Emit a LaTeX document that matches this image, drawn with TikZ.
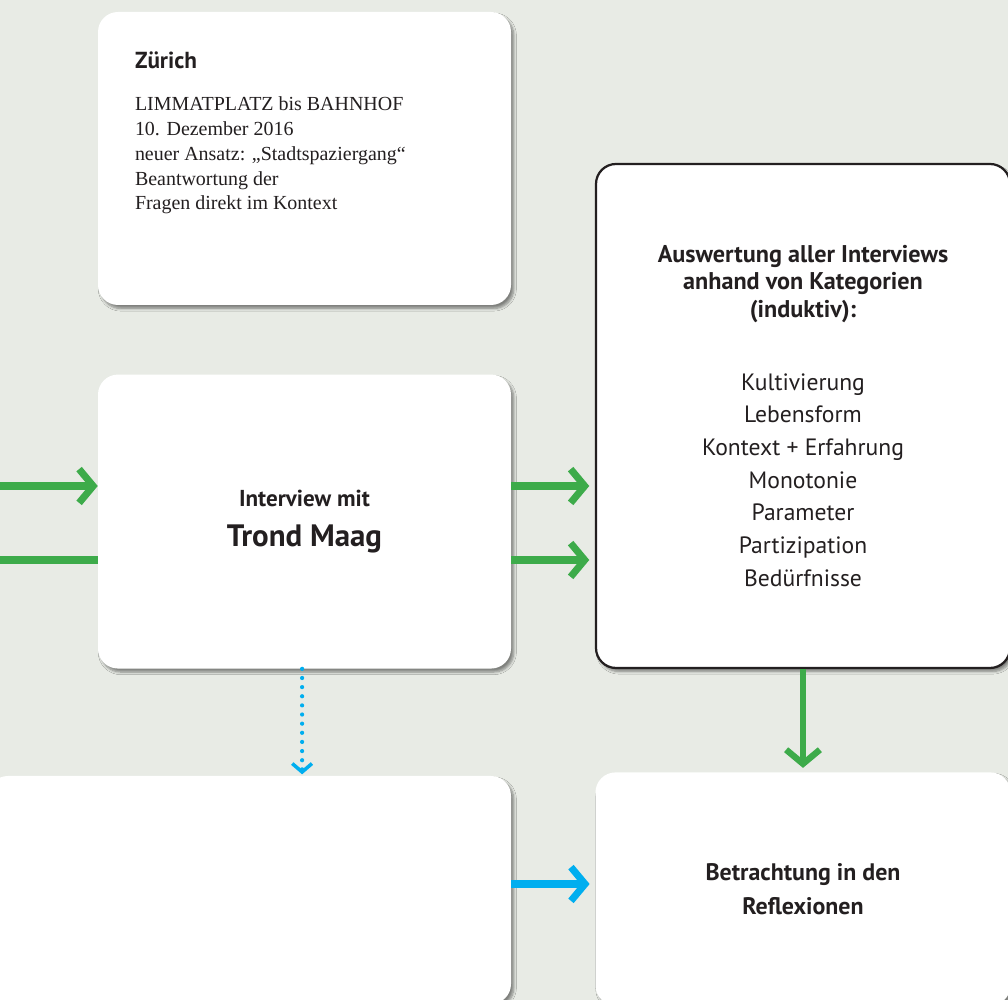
\documentclass[tikz,border=0pt]{standalone}
\usepackage{fontspec}
\setmainfont{Liberation Serif}
\setsansfont{PT Sans}
\usetikzlibrary{positioning,calc,arrows.meta,shadows.blur}
\usepackage{xcolor}

\definecolor{bggray}{HTML}{E8EBE5}
\definecolor{flowgreen}{HTML}{3DAB4A}
\definecolor{flowblue}{HTML}{00AEEF}
\definecolor{inkdark}{HTML}{231F20}

\tikzset{
  card/.style={fill=white, rounded corners=0.5cm, inner sep=0pt, align=center,
    text=inkdark, font=\sffamily\bfseries,
    blur shadow={shadow xshift=2pt, shadow yshift=-2.5pt, shadow blur steps=6, shadow opacity=45}},
  framecard/.style={card, draw=inkdark, line width=1.6pt},
  greenflow/.style={draw=flowgreen, line width=5pt, -{Straight Barb[length=10pt,width=24pt]}},
  greenline/.style={draw=flowgreen, line width=5pt},
  blueflow/.style={draw=flowblue, line width=5pt, -{Straight Barb[length=10pt,width=24pt]}},
  bluedots/.style={draw=flowblue, line width=3pt, line cap=round, dash pattern=on 0pt off 6.5pt,
    -{Straight Barb[length=6pt,width=14pt,line width=2.5pt]}}
}

\begin{document}
\begin{tikzpicture}
  % Background
  \useasboundingbox (0,0) rectangle (25.2,25);
  \fill[bggray] (0,0) rectangle (25.2,25);

  % Cards
  \node[card, minimum width=10.325cm, minimum height=7.325cm] (zurich) at (7.6125,21.0375) {};
  \node[card, minimum width=10.325cm, minimum height=7.35cm, below=1.725cm of zurich,
    font=\sffamily\bfseries\fontsize{22}{28.5}\selectfont] (interview)
    {{\fontsize{16.4}{20}\selectfont Interview mit}\\ Trond Maag};
  \node[framecard, minimum width=10.35cm, minimum height=12.6cm] (auswert) at (20.075,14.6) {};
  \node[card, minimum width=13.075cm, minimum height=5.7cm] (leer) at (6.2375,2.75) {};
  \node[card, minimum width=10.375cm, minimum height=5.825cm, below=2.575cm of auswert,
    font=\sffamily\bfseries\fontsize{17}{24}\selectfont] (betracht)
    {Betrachtung in den\\ Reflexionen};

  % Texts
  \node[anchor=north west, inner sep=0pt, align=left, text=inkdark,
    font=\fontsize{14.2}{17.7}\selectfont] (zurtext) at ([xshift=0.925cm,yshift=-1.0cm]zurich.north west)
    {{\sffamily\bfseries\fontsize{16.5}{19}\selectfont Zürich}\\[12pt]
     LIMMATPLATZ bis BAHNHOF\\
     10. Dezember 2016\\
     neuer Ansatz: „Stadtspaziergang“\\
     Beantwortung der\\
     Fragen direkt im Kontext};
  \node[inner sep=0pt, align=center, text=inkdark, font=\sffamily\bfseries\fontsize{17.2}{19.5}\selectfont]
    (kopf) at ([yshift=3.3cm]auswert.center)
    {Auswertung aller Interviews\\ anhand von Kategorien\\ (induktiv):};
  \node[inner sep=0pt, align=center, text=inkdark, font=\sffamily\fontsize{16.8}{23.2}\selectfont]
    (liste) at ([yshift=-1.6cm]auswert.center)
    {Kultivierung\\ Lebensform\\ Kontext + Erfahrung\\ Monotonie\\ Parameter\\ Partizipation\\ Bedürfnisse};

  % Connectors
  \coordinate (ein1) at (0,12.85);
  \coordinate (ein2) at (0,11.0);
  \draw[greenflow] (ein1) -- (ein1 -| interview.west);
  \draw[greenline] (ein2) -- (ein2 -| interview.west);
  \draw[greenflow, shorten >=4pt] (ein1 -| interview.east) -- (ein1 -| auswert.west);
  \draw[greenflow, shorten >=4pt] (ein2 -| interview.east) -- (ein2 -| auswert.west);
  \draw[greenflow, shorten >=3pt, line width=4.5pt] (auswert.south) -- (betracht.north);
  \draw[bluedots, shorten >=1pt] ([xshift=-0.6mm]interview.south) -- ([xshift=-0.6mm]interview.south |- leer.north);
  \draw[blueflow, shorten >=4pt] (leer.east |- 0,2.9) -- (betracht.west |- 0,2.9);
\end{tikzpicture}
\end{document}
